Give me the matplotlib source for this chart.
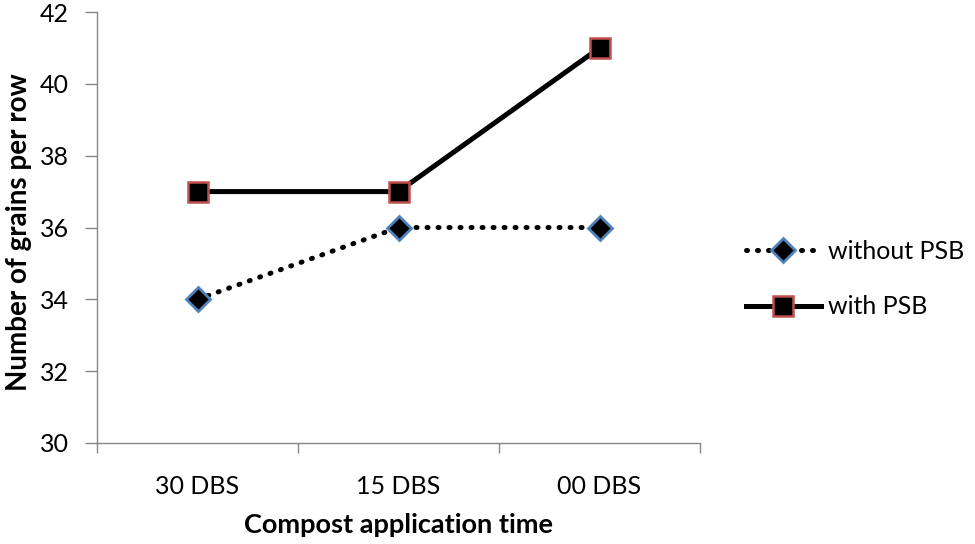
import matplotlib
matplotlib.use("Agg")
import matplotlib.pyplot as plt
from matplotlib.ticker import FixedLocator

categories = ["30 DBS", "15 DBS", "00 DBS"]
without_psb = [34, 36, 36]
with_psb = [37, 37, 41]

plt.rcParams['font.family'] = ['Lato', 'DejaVu Sans']

fig = plt.figure(figsize=(9.75, 5.44), dpi=100)
ax = fig.add_axes([97/975, 101/544, 603/975, 431/544])

x = list(range(len(categories)))
l1, = ax.plot(x, without_psb, linestyle=(0, (0.2, 2.0)), dash_capstyle='round', color='black', linewidth=3.6,
              marker='D', markersize=12, markerfacecolor='black', markeredgecolor='#4F81BD', markeredgewidth=2,
              label='without PSB')
l2, = ax.plot(x, with_psb, linestyle='-', color='black', linewidth=3.6,
              marker='s', markersize=15, markerfacecolor='black', markeredgecolor='#C0504D', markeredgewidth=1.8,
              label='with PSB')

ax.set_xlim(-0.5, len(categories) - 0.5)
ax.set_ylim(30, 42)
ax.set_yticks(range(30, 43, 2))
ax.set_xticks(x)
ax.set_xticklabels(categories)
ax.xaxis.set_minor_locator(FixedLocator([i - 0.5 for i in range(len(categories) + 1)]))
ax.tick_params(axis='x', which='major', length=0, pad=23, labelsize=18)
ax.tick_params(axis='x', which='minor', length=7, color='#868686', width=1)
ax.tick_params(axis='y', length=9, color='#868686', width=1, labelsize=18, pad=11)

for s in ['top', 'right']:
    ax.spines[s].set_visible(False)
for s in ['left', 'bottom']:
    ax.spines[s].set_color('#868686')
    ax.spines[s].set_linewidth(1)

ax.set_xlabel('Compost application time', fontsize=19.5, fontweight='bold', labelpad=11)
ax.set_ylabel('Number of grains per row', fontsize=20, fontweight='bold')
ax.yaxis.set_label_coords(-0.107, 0.49)

fig.legend(handles=[l1, l2], loc='center left', bbox_to_anchor=(723/975, 1 - 279/544),
           frameon=False, fontsize=18, handlelength=3.0, handletextpad=0.32, labelspacing=1.3)

fig.savefig('out.png', dpi=100)
